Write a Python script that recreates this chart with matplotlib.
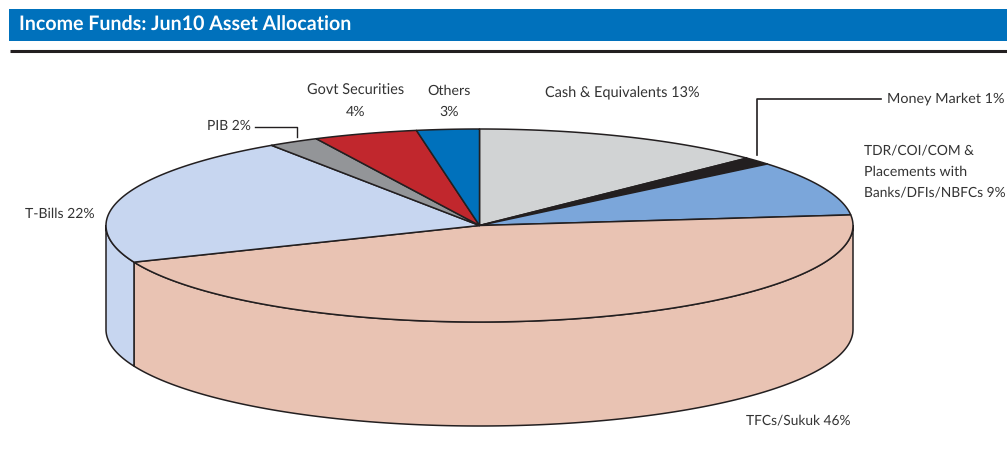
import numpy as np
import matplotlib
matplotlib.use('Agg')
import matplotlib.pyplot as plt
from matplotlib.patches import Polygon, Rectangle

plt.rcParams['font.family'] = ['Lato', 'DejaVu Sans']
plt.rcParams['text.hinting'] = 'no_hinting'

title = 'Income Funds: Jun10 Asset Allocation'
categories = ['Cash & Equivalents', 'Money Market', 'TDR/COI/COM & Placements',
              'TFCs/Sukuk', 'T-Bills', 'PIB', 'Govt Securities', 'Others']
# shares read from the slice edges, the labels show them rounded
values = [12.7, 1.3, 9.25, 45.55, 21.8, 2.2, 4.5, 2.7]
colors = ['#d1d3d4', '#231f20', '#7ba6da', '#e9c3b3', '#c7d6f0', '#939598', '#c1272d', '#0071bc']

cx, cy = 479.5, 225.5
rx, ry = 373.5, 96.5
depth = 104
edge = '#231f20'
text_color = '#333333'


def rim(a0, a1, dy=0):
    t = np.radians(np.linspace(a0, a1, 200))
    return np.column_stack([cx + rx * np.sin(t), cy - ry * np.cos(t) + dy])


fig = plt.figure(figsize=(10.07, 4.5), dpi=100)
ax = fig.add_axes([0, 0, 1, 1])
ax.set_xlim(0, 1007)
ax.set_ylim(450, 0)
ax.axis('off')

# header
ax.add_patch(Rectangle((9, 9), 998, 32, fc='#0071bc', ec='none'))
ax.text(19, 25.5, title, color='white', fontsize=14.15, fontweight='bold', va='center', ha='left')
ax.plot([10, 1007], [50.5, 50.5], color='#231f20', lw=2.2, solid_capstyle='butt')

# slice angles, clockwise from the top
ends = np.cumsum(values) / np.sum(values) * 360
starts = np.concatenate([[0], ends[:-1]])

# side wall, only the front half shows
for a0, a1, col in zip(starts, ends, colors):
    lo, hi = max(a0, 90), min(a1, 270)
    if lo >= hi:
        continue
    top = rim(lo, hi)
    bottom = rim(hi, lo, depth)
    ax.add_patch(Polygon(np.vstack([top, bottom]), closed=True, fc=col, ec=edge, lw=1.1, joinstyle='round'))

# top surface
for a0, a1, col in zip(starts, ends, colors):
    pts = np.vstack([[cx, cy], rim(a0, a1)])
    ax.add_patch(Polygon(pts, closed=True, fc=col, ec=edge, lw=1.1, joinstyle='round'))

# leader lines
ax.plot([756.5, 756.5, 881], [155, 98.5, 98.5], color=edge, lw=1.2)
ax.plot([255, 297, 297], [126.5, 126.5, 137], color=edge, lw=1.0)

label_kw = dict(color=text_color, va='center')
ax.text(356, 91, 'Govt Securities', ha='center', fontsize=10.45, **label_kw)
ax.text(356, 112, '4%', ha='center', fontsize=10.2, **label_kw)
ax.text(449, 91, 'Others', ha='center', fontsize=10.3, **label_kw)
ax.text(449, 112, '3%', ha='center', fontsize=10.2, **label_kw)
ax.text(207, 126, 'PIB 2%', ha='left', fontsize=10, **label_kw)
ax.text(545, 92, 'Cash & Equivalents 13%', ha='left', fontsize=10.45, **label_kw)
ax.text(887, 99, 'Money Market 1%', ha='left', fontsize=10.4, **label_kw)
ax.text(864, 150.5, 'TDR/COI/COM &', ha='left', fontsize=9.95, **label_kw)
ax.text(864, 171.5, 'Placements with', ha='left', fontsize=10.25, **label_kw)
ax.text(864, 192.5, 'Banks/DFIs/NBFCs 9%', ha='left', fontsize=9.95, **label_kw)
ax.text(25, 213.5, 'T-Bills 22%', ha='left', fontsize=10.1, **label_kw)
ax.text(746, 420.5, 'TFCs/Sukuk 46%', ha='left', fontsize=9.95, **label_kw)

fig.savefig('out.png', dpi=100)
